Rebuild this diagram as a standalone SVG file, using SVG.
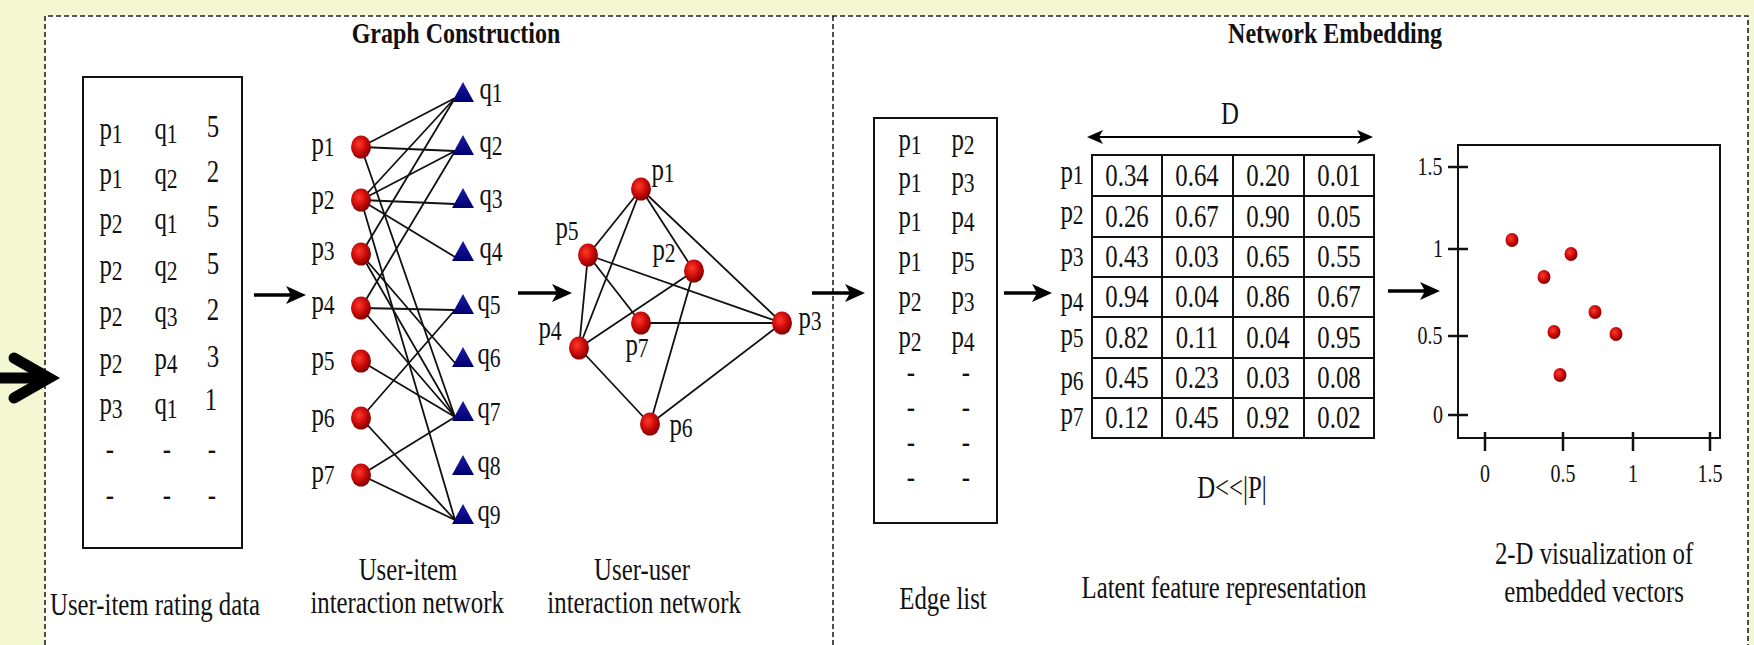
<svg xmlns="http://www.w3.org/2000/svg" width="1754" height="645" viewBox="0 0 1754 645">
<style>
.t{font-family:"Liberation Serif","Times New Roman",serif;font-size:31px;fill:#111;text-anchor:middle;transform-box:fill-box;transform-origin:center;transform:scaleX(.8)}
.b{font-weight:bold;font-size:30px}
.s{font-size:27px}
.k{font-size:25px}
.dash{fill:none;stroke:#222;stroke-width:1.6;stroke-dasharray:5 3}
.box{fill:#fff;stroke:#111;stroke-width:2}
.e{stroke:#111;stroke-width:1.8;fill:none}
.arr{stroke:#000;stroke-width:3.5;fill:none;marker-end:url(#ah)}
.u{fill:url(#rg)}
.q{fill:url(#bg)}
.cell{fill:none;stroke:#111;stroke-width:2}
</style>
<defs>
<radialGradient id="rg" cx="40%" cy="38%" r="65%">
<stop offset="0" stop-color="#ff3a2a"/><stop offset="0.55" stop-color="#cc0a0a"/><stop offset="1" stop-color="#7d0000"/>
</radialGradient>
<linearGradient id="bg" x1="0" y1="0" x2="0" y2="1">
<stop offset="0" stop-color="#1a1aa8"/><stop offset="1" stop-color="#00006e"/>
</linearGradient>
<marker id="ah" viewBox="0 0 20 20" refX="8" refY="10" markerWidth="20" markerHeight="20" markerUnits="userSpaceOnUse" orient="auto">
<path d="M0,1 L20,10 L0,19 L5,10 z" fill="#000"/>
</marker>
<marker id="dh" viewBox="0 0 16 14" refX="4" refY="7" markerWidth="16" markerHeight="14" markerUnits="userSpaceOnUse" orient="auto-start-reverse">
<path d="M0,0 L16,7 L0,14 L4,7 z" fill="#000"/>
</marker>
</defs>

<g id="background">
<rect x="0" y="0" width="1754" height="645" fill="#f4f8d2"/>
<rect x="45" y="16" width="1703" height="629" fill="#fff"/>
<path class="dash" d="M45,645 V16 H1748 V645"/>
<path class="dash" d="M833,16 V645"/>
<path d="M0,378 H45" stroke="#000" stroke-width="11" fill="none"/>
<path d="M14,358 L49,378 L14,398" stroke="#000" stroke-width="11" fill="none" stroke-linecap="round" stroke-linejoin="miter"/>
</g>

<g id="titles">
<text class="t b" x="456" y="43">Graph Construction</text>
<text class="t b" x="1335" y="43">Network Embedding</text>
</g>

<g id="rating-data">
<rect class="box" x="83" y="77" width="159" height="471"/>
<text class="t" x="111" y="139">p<tspan class="s" dy="4">1</tspan></text><text class="t" x="166" y="139">q<tspan class="s" dy="4">1</tspan></text><text class="t" x="213" y="137">5</text>
<text class="t" x="111" y="184">p<tspan class="s" dy="4">1</tspan></text><text class="t" x="166" y="184">q<tspan class="s" dy="4">2</tspan></text><text class="t" x="213" y="182">2</text>
<text class="t" x="111" y="229">p<tspan class="s" dy="4">2</tspan></text><text class="t" x="166" y="229">q<tspan class="s" dy="4">1</tspan></text><text class="t" x="213" y="227">5</text>
<text class="t" x="111" y="276">p<tspan class="s" dy="4">2</tspan></text><text class="t" x="166" y="276">q<tspan class="s" dy="4">2</tspan></text><text class="t" x="213" y="274">5</text>
<text class="t" x="111" y="322">p<tspan class="s" dy="4">2</tspan></text><text class="t" x="166" y="322">q<tspan class="s" dy="4">3</tspan></text><text class="t" x="213" y="320">2</text>
<text class="t" x="111" y="369">p<tspan class="s" dy="4">2</tspan></text><text class="t" x="166" y="369">p<tspan class="s" dy="4">4</tspan></text><text class="t" x="213" y="367">3</text>
<text class="t" x="111" y="414">p<tspan class="s" dy="4">3</tspan></text><text class="t" x="166" y="414">q<tspan class="s" dy="4">1</tspan></text><text class="t" x="211" y="410">1</text>
<text class="t" x="110" y="459">-</text><text class="t" x="167" y="459">-</text><text class="t" x="212" y="459">-</text>
<text class="t" x="110" y="505">-</text><text class="t" x="167" y="505">-</text><text class="t" x="212" y="505">-</text>
<text class="t" x="155" y="615">User-item rating data</text>
</g>

<g id="connectors">
<path class="arr" d="M254,295 H294"/>
<path class="arr" d="M518,293 H560"/>
<path class="arr" d="M812,293 H853"/>
<path class="arr" d="M1004,293 H1040"/>
<path class="arr" d="M1388,291 H1428"/>
<g id="ui-edges" class="e">
<path d="M361,147 L455,98 M361,147 L455,151 M361,147 L455,417"/>
<path d="M361,200 L455,98 M361,200 L455,151 M361,200 L455,204 M361,200 L455,257 M361,200 L455,520"/>
<path d="M361,254 L455,98 M361,254 L455,363 M361,254 L455,417"/>
<path d="M361,308 L455,151 M361,308 L455,310 M361,308 L455,417"/>
<path d="M361,361 L455,417"/>
<path d="M361,418 L455,310 M361,418 L455,520"/>
<path d="M361,475 L455,417 M361,475 L455,520"/>
</g>
<g id="uu-edges" class="e">
<path d="M641,189 L588,255 M641,189 L579,348 M641,189 L694,271 M641,189 L782,323"/>
<path d="M588,255 L782,323 M588,255 L641,323 M588,255 L579,348"/>
<path d="M579,348 L694,271 M694,271 L650,424 M641,323 L782,323 M579,348 L650,424 M650,424 L782,323"/>
</g>
</g>

<g id="user-item-network">
<g id="ui-p1"><ellipse class="u" cx="361" cy="147" rx="10" ry="11.5"/><text class="t" x="323" y="154">p<tspan class="s" dy="2">1</tspan></text></g>
<g id="ui-p2"><ellipse class="u" cx="361" cy="200" rx="10" ry="11.5"/><text class="t" x="323" y="207">p<tspan class="s" dy="2">2</tspan></text></g>
<g id="ui-p3"><ellipse class="u" cx="361" cy="254" rx="10" ry="11.5"/><text class="t" x="323" y="258">p<tspan class="s" dy="2">3</tspan></text></g>
<g id="ui-p4"><ellipse class="u" cx="361" cy="308" rx="10" ry="11.5"/><text class="t" x="323" y="312">p<tspan class="s" dy="2">4</tspan></text></g>
<g id="ui-p5"><ellipse class="u" cx="361" cy="361" rx="10" ry="11.5"/><text class="t" x="323" y="368">p<tspan class="s" dy="2">5</tspan></text></g>
<g id="ui-p6"><ellipse class="u" cx="361" cy="418" rx="10" ry="11.5"/><text class="t" x="323" y="425">p<tspan class="s" dy="2">6</tspan></text></g>
<g id="ui-p7"><ellipse class="u" cx="361" cy="475" rx="10" ry="11.5"/><text class="t" x="323" y="482">p<tspan class="s" dy="2">7</tspan></text></g>
<g id="ui-q1"><path class="q" d="M463,82 L474,102 L452,102 z"/><text class="t" x="491" y="99">q<tspan class="s" dy="3">1</tspan></text></g>
<g id="ui-q2"><path class="q" d="M463,135 L474,155 L452,155 z"/><text class="t" x="491" y="152">q<tspan class="s" dy="3">2</tspan></text></g>
<g id="ui-q3"><path class="q" d="M463,188 L474,208 L452,208 z"/><text class="t" x="491" y="205">q<tspan class="s" dy="3">3</tspan></text></g>
<g id="ui-q4"><path class="q" d="M463,241 L474,261 L452,261 z"/><text class="t" x="491" y="258">q<tspan class="s" dy="3">4</tspan></text></g>
<g id="ui-q5"><path class="q" d="M463,294 L474,314 L452,314 z"/><text class="t" x="489" y="311">q<tspan class="s" dy="3">5</tspan></text></g>
<g id="ui-q6"><path class="q" d="M463,347 L474,367 L452,367 z"/><text class="t" x="489" y="364">q<tspan class="s" dy="3">6</tspan></text></g>
<g id="ui-q7"><path class="q" d="M463,401 L474,421 L452,421 z"/><text class="t" x="489" y="418">q<tspan class="s" dy="3">7</tspan></text></g>
<g id="ui-q8"><path class="q" d="M463,455 L474,475 L452,475 z"/><text class="t" x="489" y="472">q<tspan class="s" dy="3">8</tspan></text></g>
<g id="ui-q9"><path class="q" d="M463,504 L474,524 L452,524 z"/><text class="t" x="489" y="521">q<tspan class="s" dy="3">9</tspan></text></g>
<text class="t" x="408" y="580">User-item</text>
<text class="t" x="407" y="613">interaction network</text>
</g>

<g id="user-user-network">
<g id="uu-p1"><ellipse class="u" cx="641" cy="189" rx="10" ry="11.5"/><text class="t" x="663" y="180">p<tspan class="s" dy="2">1</tspan></text></g>
<g id="uu-p5"><ellipse class="u" cx="588" cy="255" rx="10" ry="11.5"/><text class="t" x="567" y="238">p<tspan class="s" dy="2">5</tspan></text></g>
<g id="uu-p2"><ellipse class="u" cx="694" cy="271" rx="10" ry="11.5"/><text class="t" x="664" y="260">p<tspan class="s" dy="2">2</tspan></text></g>
<g id="uu-p7"><ellipse class="u" cx="641" cy="323" rx="10" ry="11.5"/><text class="t" x="637" y="355">p<tspan class="s" dy="2">7</tspan></text></g>
<g id="uu-p3"><ellipse class="u" cx="782" cy="323" rx="10" ry="11.5"/><text class="t" x="810" y="328">p<tspan class="s" dy="2">3</tspan></text></g>
<g id="uu-p4"><ellipse class="u" cx="579" cy="348" rx="10" ry="11.5"/><text class="t" x="550" y="338">p<tspan class="s" dy="2">4</tspan></text></g>
<g id="uu-p6"><ellipse class="u" cx="650" cy="424" rx="10" ry="11.5"/><text class="t" x="681" y="435">p<tspan class="s" dy="2">6</tspan></text></g>
<text class="t" x="642" y="580">User-user</text>
<text class="t" x="644" y="613">interaction network</text>
</g>

<g id="edge-list">
<rect class="box" x="874" y="118" width="123" height="405"/>
<text class="t" x="910" y="150">p<tspan class="s" dy="4">1</tspan></text><text class="t" x="963" y="150">p<tspan class="s" dy="4">2</tspan></text>
<text class="t" x="910" y="188">p<tspan class="s" dy="4">1</tspan></text><text class="t" x="963" y="188">p<tspan class="s" dy="4">3</tspan></text>
<text class="t" x="910" y="227">p<tspan class="s" dy="4">1</tspan></text><text class="t" x="963" y="227">p<tspan class="s" dy="4">4</tspan></text>
<text class="t" x="910" y="267">p<tspan class="s" dy="4">1</tspan></text><text class="t" x="963" y="267">p<tspan class="s" dy="4">5</tspan></text>
<text class="t" x="910" y="307">p<tspan class="s" dy="4">2</tspan></text><text class="t" x="963" y="307">p<tspan class="s" dy="4">3</tspan></text>
<text class="t" x="910" y="347">p<tspan class="s" dy="4">2</tspan></text><text class="t" x="963" y="347">p<tspan class="s" dy="4">4</tspan></text>
<text class="t" x="911" y="382">-</text><text class="t" x="966" y="382">-</text>
<text class="t" x="911" y="417">-</text><text class="t" x="966" y="417">-</text>
<text class="t" x="911" y="452">-</text><text class="t" x="966" y="452">-</text>
<text class="t" x="911" y="487">-</text><text class="t" x="966" y="487">-</text>
<text class="t" x="943" y="609">Edge list</text>
</g>

<g id="latent-features">
<text class="t" x="1230" y="124">D</text>
<path d="M1099,137 H1361" stroke="#000" stroke-width="2" fill="none" marker-start="url(#dh)" marker-end="url(#dh)"/>
<rect class="cell" x="1092" y="155" width="282" height="283"/>
<path class="cell" d="M1162,155 V438 M1233,155 V438 M1304,155 V438 M1092,196 H1374 M1092,237 H1374 M1092,277 H1374 M1092,317 H1374 M1092,358 H1374 M1092,398 H1374"/>
<text class="t" x="1072" y="182">p<tspan class="s" dy="2">1</tspan></text>
<text class="t" x="1072" y="222">p<tspan class="s" dy="2">2</tspan></text>
<text class="t" x="1072" y="264">p<tspan class="s" dy="2">3</tspan></text>
<text class="t" x="1072" y="309">p<tspan class="s" dy="2">4</tspan></text>
<text class="t" x="1072" y="345">p<tspan class="s" dy="2">5</tspan></text>
<text class="t" x="1072" y="388">p<tspan class="s" dy="2">6</tspan></text>
<text class="t" x="1072" y="424">p<tspan class="s" dy="2">7</tspan></text>
<text class="t" x="1127" y="186">0.34</text><text class="t" x="1197" y="186">0.64</text><text class="t" x="1268" y="186">0.20</text><text class="t" x="1339" y="186">0.01</text>
<text class="t" x="1127" y="227">0.26</text><text class="t" x="1197" y="227">0.67</text><text class="t" x="1268" y="227">0.90</text><text class="t" x="1339" y="227">0.05</text>
<text class="t" x="1127" y="267">0.43</text><text class="t" x="1197" y="267">0.03</text><text class="t" x="1268" y="267">0.65</text><text class="t" x="1339" y="267">0.55</text>
<text class="t" x="1127" y="307">0.94</text><text class="t" x="1197" y="307">0.04</text><text class="t" x="1268" y="307">0.86</text><text class="t" x="1339" y="307">0.67</text>
<text class="t" x="1127" y="348">0.82</text><text class="t" x="1197" y="348">0.11</text><text class="t" x="1268" y="348">0.04</text><text class="t" x="1339" y="348">0.95</text>
<text class="t" x="1127" y="388">0.45</text><text class="t" x="1197" y="388">0.23</text><text class="t" x="1268" y="388">0.03</text><text class="t" x="1339" y="388">0.08</text>
<text class="t" x="1127" y="428">0.12</text><text class="t" x="1197" y="428">0.45</text><text class="t" x="1268" y="428">0.92</text><text class="t" x="1339" y="428">0.02</text>
<text class="t" x="1232" y="498">D&lt;&lt;|P|</text>
<text class="t" x="1224" y="598">Latent feature representation</text>
</g>

<g id="scatter-plot">
<rect x="1458" y="145" width="262" height="293" fill="none" stroke="#111" stroke-width="2"/>
<path d="M1448,167 H1468 M1448,249 H1468 M1448,336 H1468 M1448,415 H1468 M1485,432 V451 M1563,432 V451 M1633,432 V451 M1710,432 V451" stroke="#111" stroke-width="2.5" fill="none"/>
<text class="t k" x="1430" y="175">1.5</text>
<text class="t k" x="1438" y="257">1</text>
<text class="t k" x="1430" y="344">0.5</text>
<text class="t k" x="1438" y="423">0</text>
<text class="t k" x="1485" y="482">0</text>
<text class="t k" x="1563" y="482">0.5</text>
<text class="t k" x="1633" y="482">1</text>
<text class="t k" x="1710" y="482">1.5</text>
<g id="points">
<ellipse class="u" cx="1512" cy="240" rx="6.5" ry="7"/>
<ellipse class="u" cx="1571" cy="254" rx="6.5" ry="7"/>
<ellipse class="u" cx="1544" cy="277" rx="6.5" ry="7"/>
<ellipse class="u" cx="1595" cy="312" rx="6.5" ry="7"/>
<ellipse class="u" cx="1554" cy="332" rx="6.5" ry="7"/>
<ellipse class="u" cx="1616" cy="334" rx="6.5" ry="7"/>
<ellipse class="u" cx="1560" cy="375" rx="6.5" ry="7"/>
</g>
<text class="t" x="1594" y="564">2-D visualization of</text>
<text class="t" x="1594" y="602">embedded vectors</text>
</g>
</svg>
